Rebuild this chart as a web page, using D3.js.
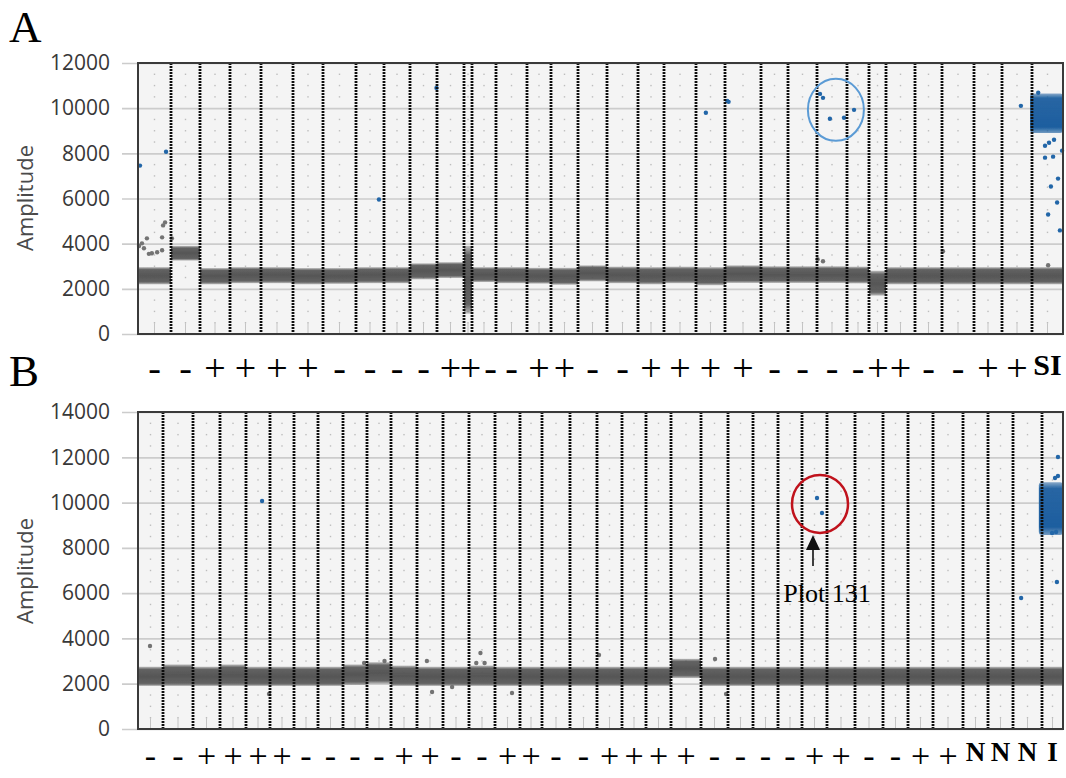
<!DOCTYPE html>
<html>
<head>
<meta charset="utf-8">
<script src="https://cdn.jsdelivr.net/npm/d3@7/dist/d3.min.js"></script>
<style>
  body { margin: 0; background: #fff; }
</style>
</head>
<body>
<svg id="chart"></svg>
<script>
/* ---- panel A : droplets per well, labels, negative band (lo, hi amplitude) ---- */
var wellsA = [16500,14500,15000,15500,16000,15000,16500,14000,13000,13500,13500,4000,12000,15500,12000,13500,
              14500,15500,13000,16000,14500,18000,13500,14500,15000,11000,8500,14500,13500,16000,14000,15000,15500];
var labelsA = ["-","-","+","+","+","+","-","-","-","-","+","+","-","-","+","+",
               "-","-","+","+","+","+","-","-","-","-","+","+","-","-","+","+","SI"];
var bandA = [[2200,2960],[3250,3900],[2200,2920],[2250,2960],[2250,2960],[2200,2920],[2220,2920],[2250,2960],
             [2250,2960],[2420,3130],[2480,3180],[900,3900],[2300,2960],[2250,2960],[2230,2930],[2180,2930],
             [2330,3040],[2250,2980],[2200,2960],[2250,2980],[2160,2960],[2260,3040],[2260,3000],[2260,3000],
             [2260,3000],[2240,2980],[1700,2800],[2200,2960],[2200,2960],[2200,2960],[2200,2960],[2200,2960],[2200,2960]];
// [well (1-based), position inside well 0..1, amplitude]
var blueA = [[1,0.06,7456],[1,0.85,8073],[8,0.82,5956],[10,0.98,10897],[21,0.34,9794],[22,0.06,10323],[22,0.1,10280],
             [25,0.1,10632],[25,0.2,10456],[25,0.43,9530],[25,0.9,9573],[26,0.32,9926],[32,0.63,10103],
             [33,0.42,8338],[33,0.55,8470],[33,0.71,8603],[33,0.42,7809],[33,0.68,7853],[33,0.97,8118],
             [33,0.84,6882],[33,0.61,6529],[33,0.81,5823],[33,0.52,5294],[33,0.9,4588],[33,0.2,10680]];
var greyA = [[1,0.12,4015],[1,0.27,4235],[1,0.42,3573],[1,0.58,3618],[1,0.73,3706],[1,0.76,4809],[1,0.82,4941],
             [1,0.73,4279],[1,0.18,3794],[1,0.03,3900],[1,0.33,3550],[2,0.03,4235],[25,0.02,3309],[25,0.2,3220],
             [30,0.03,3662],[33,0.52,3044]];
var clusterA = [33, -0.06, 1, 8900, 10650];   // well, frac from, frac to, amp lo, amp hi
var ticksA = [0,2000,4000,6000,8000,10000,12000];

/* ---- panel B ---- */
var wellsB = [12500,15000,13500,13000,12000,12000,12000,12500,12000,12000,13000,13000,13000,13000,12500,11000,
              14000,13500,12500,12000,12500,15000,13500,12500,12500,12000,12500,14000,14000,12500,12500,15000,
              12500,12500,14500,10500];
var labelsB = ["-","-","+","+","+","+","-","-","-","-","+","+","-","-","+","+","-","-",
               "+","+","+","+","-","-","-","-","+","+","-","-","+","+","N","N","N","I"];
var bandB = [[1900,2750],[1900,2850],[1900,2750],[1900,2850],[1900,2750],[1900,2750],[1900,2750],[1900,2750],
             [1950,2850],[2000,2950],[1900,2800],[1900,2750],[1900,2750],[1900,2800],[1900,2750],[1900,2750],
             [1900,2750],[1900,2750],[1900,2750],[1900,2750],[1900,2750],[2250,3100],[1900,2750],[1900,2750],
             [1900,2750],[1900,2750],[1900,2750],[1900,2750],[1900,2750],[1900,2750],[1900,2750],[1900,2750],
             [1900,2750],[1900,2750],[1900,2750],[1900,2750]];
var blueB = [[5,0.67,10070],[27,0.6,10203],[27,0.8,9540],[35,0.28,5786],[36,0.76,12015],[36,0.76,11175],
             [36,0.62,11086],[36,0.71,6493],[36,0.67,8700],[36,0.48,8657]];
var greyB = [[1,0.48,3666],[5,0.96,1546],[10,0.73,3004],[12,0.38,3004],[12,0.58,1634],[13,0.35,1855],
             [14,0.44,3357],[14,0.28,2915],[14,0.6,2915],[15,0.68,1590],[19,0.08,3269],[23,0.52,3092],
             [23,0.93,1546],[9,0.88,2915]];
var clusterB = [36, -0.15, 1, 8570, 10900];
var ticksB = [0,2000,4000,6000,8000,10000,12000,14000];

var W = 1066, H = 778, left = 138, right = 1063;

var svg = d3.select("#chart").attr("width", W).attr("height", H);
var defs = svg.append("defs");

function grad(id, color, stops) {
  var g = defs.append("linearGradient").attr("id", id)
      .attr("x1", 0).attr("y1", 0).attr("x2", 0).attr("y2", 1);
  stops.forEach(function(s) {
    g.append("stop").attr("offset", s[0]).attr("stop-color", color).attr("stop-opacity", s[1]);
  });
}
grad("greyBand", "#565656", [[0,0.35],[0.14,0.92],[0.5,1],[0.86,0.92],[1,0.35]]);
grad("blueBand", "#1b5e9f", [[0,0.5],[0.12,0.95],[0.85,1],[1,0.6]]);
defs.append("filter").attr("id", "soft").append("feGaussianBlur").attr("stdDeviation", 0.7);

var serif = "'Liberation Serif', 'Times New Roman', serif";

function panel(cfg) {
  var total = d3.sum(cfg.wells);
  var x = d3.scaleLinear().domain([0, total]).range([left, right]);
  var y = d3.scaleLinear().domain([0, cfg.max]).range([cfg.bottom, cfg.top]);
  var starts = d3.cumsum([0].concat(cfg.wells)).slice(0, cfg.wells.length);
  var px = function(d) { return x(starts[d[0] - 1] + d[1] * cfg.wells[d[0] - 1]); };
  var g = svg.append("g");

  g.append("rect").attr("x", left).attr("y", cfg.top).attr("width", right - left)
      .attr("height", cfg.bottom - cfg.top).attr("fill", "#f4f4f4");

  // horizontal grid + tick labels
  var axis = g.append("g").attr("transform", "translate(" + right + ",0)")
      .call(d3.axisLeft(y).tickValues(cfg.ticks).tickSize(right - 122).tickPadding(12).tickFormat(d3.format("d")));
  axis.select(".domain").remove();
  axis.selectAll(".tick line").attr("stroke", "#cccccc").attr("stroke-width", 1.7);
  axis.selectAll(".tick text").attr("fill", "#383838").style("font-family", "'Open Sans', sans-serif")
      .style("font-size", "21px");

  // faint dots at each well centre
  var minor = d3.range(500, cfg.max, 500).filter(function(v) { return v % 2000 !== 0; });
  cfg.wells.forEach(function(c, i) {
    var cx = x(starts[i] + c / 2);
    g.selectAll(null).data(minor).enter().append("rect")
        .attr("x", cx - 0.7).attr("y", function(v) { return y(v) - 0.7; })
        .attr("width", 1.4).attr("height", 1.4).attr("fill", "#bdbdbd");
    g.append("line").attr("x1", cx).attr("x2", cx).attr("y1", y(0)).attr("y2", y(480))
        .attr("stroke", "#c4c4c4").attr("stroke-width", 1);
  });

  // negative droplet bands
  g.append("g").attr("filter", "url(#soft)").selectAll("rect").data(cfg.bands).enter().append("rect")
      .attr("x", function(d, i) { return x(starts[i]); })
      .attr("width", function(d, i) { return x(starts[i] + cfg.wells[i]) - x(starts[i]); })
      .attr("y", function(d) { return y(d[1]); })
      .attr("height", function(d) { return y(d[0]) - y(d[1]); })
      .attr("fill", "url(#greyBand)");

  g.selectAll(null).data(cfg.grey).enter().append("circle")
      .attr("cx", px).attr("cy", function(d) { return y(d[2]); }).attr("r", 2.2).attr("fill", "#737373");

  // positive cluster
  var c = cfg.cluster, cs = starts[c[0] - 1], cw = cfg.wells[c[0] - 1];
  g.append("rect").attr("filter", "url(#soft)")
      .attr("x", x(cs + c[1] * cw)).attr("width", x(cs + c[2] * cw) - x(cs + c[1] * cw))
      .attr("y", y(c[4])).attr("height", y(c[3]) - y(c[4])).attr("rx", 3)
      .attr("fill", "url(#blueBand)");

  g.selectAll(null).data(cfg.blue).enter().append("circle")
      .attr("cx", px).attr("cy", function(d) { return y(d[2]); }).attr("r", 2.2).attr("fill", "#2266a8");

  // well separators
  g.selectAll(null).data(starts.slice(1)).enter().append("line")
      .attr("x1", function(d) { return x(d); }).attr("x2", function(d) { return x(d); })
      .attr("y1", cfg.top).attr("y2", cfg.bottom)
      .attr("stroke", "#0d0d0d").attr("stroke-width", 2.8).attr("stroke-dasharray", "2,1");

  g.append("rect").attr("x", left).attr("y", cfg.top).attr("width", right - left)
      .attr("height", cfg.bottom - cfg.top).attr("fill", "none").attr("stroke", "#3a3a3a").attr("stroke-width", 2);

  // well labels centred under wells, pushed right where wells are too narrow
  var lx = [], prev = -Infinity;
  cfg.labels.forEach(function(d, i) {
    prev = Math.max(x(starts[i] + cfg.wells[i] / 2), prev + cfg.minGap);
    lx.push(prev);
  });
  g.selectAll(null).data(cfg.labels).enter().append("text")
      .attr("x", function(d, i) { return lx[i]; })
      .attr("y", function(d) { return /[A-Z]/.test(d) ? cfg.letterBase : cfg.symBase; })
      .attr("text-anchor", "middle")
      .style("font-family", serif)
      .style("font-size", function(d) { return (/[A-Z]/.test(d) ? cfg.letterSize : cfg.symSize) + "px"; })
      .style("font-weight", function(d) { return /[A-Z]/.test(d) ? "bold" : "normal"; })
      .text(function(d) { return d; });

  g.append("text").attr("transform", "translate(33," + cfg.titleY + ") rotate(-90)")
      .attr("text-anchor", "middle").attr("fill", "#4a4a4a")
      .style("font-family", "'Open Sans', sans-serif").style("font-size", "22px").text("Amplitude");

  g.append("text").attr("x", 9).attr("y", cfg.letterY)
      .style("font-family", serif).style("font-size", "45px")
      .text(cfg.letter);

  // ring annotation
  var r = cfg.ring;
  var rx0 = px([r.well, r.frac]), ry0 = y(r.amp);
  g.append("ellipse").attr("cx", rx0).attr("cy", ry0).attr("rx", r.rx).attr("ry", r.ry)
      .attr("fill", "none").attr("stroke", r.color).attr("stroke-width", r.w);
  return { cx: rx0, cy: ry0, ry: r.ry, g: g };
}

panel({ wells: wellsA, labels: labelsA, bands: bandA, blue: blueA, grey: greyA, cluster: clusterA,
        ticks: ticksA, max: 12000, top: 63, bottom: 334, minGap: 20,
        symBase: 381, symSize: 38, letterBase: 375, letterSize: 30, titleY: 198,
        letter: "A", letterY: 42,
        ring: { well: 25, frac: 0.63, amp: 9926, rx: 28, ry: 31, color: "#5b9bd5", w: 2 } });

var pb = panel({ wells: wellsB, labels: labelsB, bands: bandB, blue: blueB, grey: greyB, cluster: clusterB,
        ticks: ticksB, max: 14000, top: 412, bottom: 729, minGap: 18,
        symBase: 767, symSize: 34, letterBase: 761, letterSize: 27, titleY: 571,
        letter: "B", letterY: 386,
        ring: { well: 27, frac: 0.72, amp: 9938, rx: 28, ry: 29, color: "#c0121c", w: 2.5 } });

// arrow + caption under the red ring
var ax = pb.cx - 7, tip = pb.cy + pb.ry + 2;
pb.g.append("line").attr("x1", ax).attr("x2", ax).attr("y1", tip + 12).attr("y2", tip + 31)
    .attr("stroke", "#111").attr("stroke-width", 1.6);
pb.g.append("path").attr("d", "M" + ax + "," + tip + "L" + (ax - 7) + "," + (tip + 15) + "L" + (ax + 7) + "," + (tip + 15) + "Z")
    .attr("fill", "#111");
pb.g.append("text").attr("x", pb.cx + 7).attr("y", pb.cy + 98).attr("text-anchor", "middle")
    .style("font-family", serif).style("font-size", "26px")
    .text("Plot 131");
</script>
</body>
</html>
